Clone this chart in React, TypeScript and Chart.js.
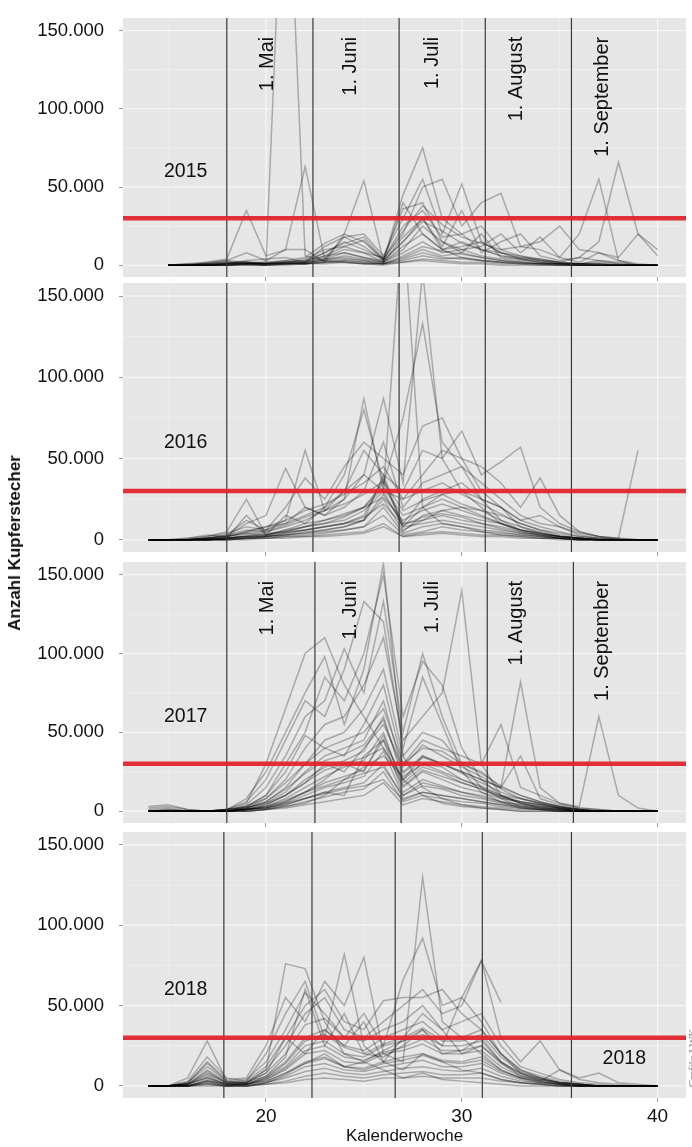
import React, { useEffect, useRef } from 'react';
import { Chart, registerables } from 'chart.js';

Chart.register(...registerables);

// Kalenderwochen (x values shared by every trap series)
const WEEKS = [14, 15, 16, 17, 18, 19, 20, 21, 22, 23, 24, 25, 26, 27, 28, 29, 30, 31, 32, 33, 34, 35, 36, 37, 38, 39, 40];

// axis ticks, values in thousands (50 -> "50.000")
const Y_TICKS = [0, 50, 100, 150];
const Y_MINOR = [25, 75, 125];
const X_TICKS = [20, 30, 40];
const X_MINOR = [15, 25, 35];
const THRESHOLD = 30;

const MONTH_LABELS = ['1. Mai', '1. Juni', '1. Juli', '1. August', '1. September'];
const MONTH_WEEKS_2015 = [18.0, 22.4, 26.8, 31.2, 35.6];
const MONTH_WEEKS_2016 = [18.0, 22.4, 26.8, 31.2, 35.6];
const MONTH_WEEKS_2017 = [18.0, 22.5, 26.9, 31.3, 35.7];
const MONTH_WEEKS_2018 = [17.85, 22.35, 26.6, 31.05, 35.6];
const MONTH_LABEL_WEEKS = [20.1, 24.3, 28.5, 32.8, 37.2];
const MONTH_LABEL_TOP = 146;
const YEAR_LABEL_POS = [15.9, 60];
const EXTRA_LABEL_POS = [38.3, 17];

// Anzahl Kupferstecher per trap (thousands), weeks 14..40
const traps2015: (number | null)[][] = [
  [null, 0, 0, 1, 2, 1, 0, 300, 6, 3, 2, 1, 1, 2, 3, 2, 1, 1, 0, 0, 0, 0, 0, 0, 0, 0, 0],
  [null, 0, 0, 2, 4, 35, 6, 10, 63, 4, 18, 12, 3, 40, 20, 10, 5, 3, 2, 1, 1, 0, 0, 0, 0, 0, 0],
  [null, 0, 1, 1, 3, 8, 3, 10, 10, 2, 20, 54, 3, 45, 75, 30, 20, 10, 8, 5, 3, 2, 5, 3, 2, 0, 0],
  [null, 0, 0, 0, 1, 3, 4, 5, 2, 12, 18, 20, 6, 30, 55, 20, 52, 15, 8, 4, 2, 1, 1, 3, 1, 0, 0],
  [null, 0, 0, 1, 2, 2, 1, 3, 2, 8, 15, 10, 4, 20, 50, 55, 25, 40, 46, 12, 10, 5, 2, 8, 3, 1, 0],
  [null, 0, 0, 0, 1, 1, 2, 2, 4, 10, 12, 8, 5, 36, 40, 15, 10, 12, 20, 8, 18, 5, 20, 55, 3, 0, 0],
  [null, 0, 0, 0, 0, 1, 1, 2, 3, 6, 8, 5, 3, 15, 30, 12, 35, 8, 15, 20, 6, 3, 5, 15, 66, 20, 6],
  [null, 0, 0, 1, 1, 2, 2, 3, 5, 14, 20, 15, 4, 25, 35, 18, 20, 25, 10, 12, 15, 25, 10, 8, 5, 20, 10],
  [null, 0, 0, 0, 1, 1, 1, 1, 2, 5, 10, 8, 2, 12, 20, 10, 15, 10, 6, 5, 4, 2, 1, 2, 1, 0, 0],
  [null, 0, 0, 0, 0, 1, 0, 1, 1, 3, 6, 4, 2, 8, 15, 8, 10, 6, 4, 3, 2, 1, 1, 1, 0, 0, 0],
  [null, 0, 0, 0, 1, 1, 1, 2, 2, 4, 5, 3, 1, 5, 10, 6, 8, 5, 3, 2, 1, 1, 0, 0, 0, 0, 0],
  [null, 0, 0, 0, 0, 0, 0, 1, 1, 2, 3, 2, 1, 3, 6, 4, 5, 3, 2, 1, 1, 0, 0, 0, 0, 0, 0],
  [null, 0, 0, 0, 1, 1, 1, 1, 2, 3, 4, 3, 2, 10, 25, 15, 8, 20, 5, 4, 2, 1, 0, 0, 0, 0, 0],
  [null, 0, 0, 0, 0, 1, 0, 1, 1, 2, 2, 1, 1, 4, 8, 5, 4, 3, 2, 2, 1, 1, 1, 0, 0, 0, 0],
  [null, 0, 0, 0, 0, 0, 0, 0, 1, 1, 2, 1, 0, 2, 4, 3, 2, 2, 1, 1, 0, 0, 0, 0, 0, 0, 0],
  [null, 0, 0, 0, 1, 2, 1, 2, 1, 4, 8, 5, 2, 18, 30, 10, 12, 15, 8, 6, 3, 2, 1, 1, 0, 0, 0],
  [null, 0, 0, 0, 0, 1, 1, 1, 2, 6, 12, 16, 3, 15, 28, 22, 14, 10, 6, 4, 3, 1, 1, 0, 0, 0, 0],
  [null, 0, 1, 2, 3, 2, 1, 2, 3, 8, 14, 18, 4, 22, 38, 26, 18, 14, 10, 6, 4, 2, 1, 1, 0, 0, 0],
  [null, 0, 0, 1, 2, 2, 1, 1, 1, 2, 3, 2, 1, 6, 12, 9, 7, 5, 3, 2, 1, 1, 0, 0, 0, 0, 0],
];

const traps2016: (number | null)[][] = [
  [0, 0, 1, 3, 2, 10, 15, 44, 20, 15, 25, 87, 30, 200, 20, 10, 8, 5, 3, 2, 1, 1, 0, 0, 0, 0, 0],
  [0, 0, 0, 1, 2, 5, 8, 12, 55, 18, 30, 40, 87, 35, 165, 50, 30, 20, 10, 5, 3, 2, 1, 0, 0, 0, 0],
  [0, 0, 0, 2, 5, 25, 3, 15, 10, 20, 40, 80, 35, 75, 133, 60, 45, 25, 12, 6, 3, 1, 0, 0, 0, 0, 0],
  [0, 0, 0, 1, 3, 12, 6, 20, 38, 25, 45, 60, 50, 40, 70, 75, 50, 30, 20, 8, 4, 2, 1, 0, 0, 0, 0],
  [0, 0, 0, 1, 2, 4, 6, 10, 15, 20, 30, 55, 40, 30, 55, 50, 67, 40, 48, 57, 20, 10, 5, 2, 0, 0, 0],
  [0, 0, 0, 0, 1, 3, 5, 8, 12, 18, 25, 40, 30, 25, 40, 55, 50, 45, 35, 20, 38, 15, 5, 2, 1, 0, 0],
  [0, 0, 0, 1, 2, 5, 8, 10, 20, 15, 20, 30, 60, 20, 35, 40, 45, 35, 25, 15, 10, 8, 3, 1, 1, 55, null],
  [0, 0, 0, 0, 1, 2, 3, 6, 8, 12, 15, 20, 35, 10, 25, 30, 35, 25, 20, 12, 8, 5, 2, 1, 0, 0, 0],
  [0, 0, 0, 0, 1, 2, 4, 5, 8, 10, 12, 18, 30, 8, 20, 25, 20, 18, 15, 10, 6, 4, 2, 1, 0, 0, 0],
  [0, 0, 0, 0, 0, 1, 2, 3, 5, 6, 8, 12, 25, 5, 15, 18, 15, 12, 10, 6, 4, 2, 1, 0, 0, 0, 0],
  [0, 0, 0, 0, 1, 2, 2, 4, 6, 8, 10, 15, 38, 6, 12, 15, 12, 10, 8, 5, 3, 2, 1, 0, 0, 0, 0],
  [0, 0, 0, 0, 0, 1, 1, 2, 3, 4, 6, 8, 20, 4, 8, 10, 8, 6, 5, 3, 2, 1, 0, 0, 0, 0, 0],
  [0, 0, 0, 1, 1, 15, 3, 5, 6, 8, 10, 12, 28, 10, 12, 18, 20, 15, 10, 6, 4, 2, 1, 0, 0, 0, 0],
  [0, 0, 0, 0, 1, 1, 2, 3, 4, 5, 6, 8, 15, 3, 5, 8, 6, 5, 4, 3, 2, 1, 0, 0, 0, 0, 0],
  [0, 0, 0, 0, 0, 1, 1, 2, 2, 3, 4, 5, 10, 2, 4, 5, 4, 3, 3, 2, 1, 1, 0, 0, 0, 0, 0],
  [0, 0, 0, 0, 0, 0, 1, 1, 2, 2, 3, 4, 8, 2, 3, 4, 3, 2, 2, 1, 1, 0, 0, 0, 0, 0, 0],
  [0, 0, 0, 0, 1, 2, 3, 5, 8, 10, 14, 20, 32, 15, 20, 28, 30, 25, 20, 12, 15, 8, 4, 2, 1, 0, 0],
  [0, 0, 0, 0, 0, 1, 2, 3, 4, 6, 8, 12, 40, 8, 10, 12, 10, 8, 6, 4, 3, 1, 1, 0, 0, 0, 0],
  [0, 0, 1, 2, 4, 8, 6, 12, 18, 22, 28, 35, 45, 25, 30, 35, 28, 22, 16, 10, 6, 3, 1, 0, 0, 0, 0],
  [0, 0, 0, 1, 3, 6, 5, 9, 14, 18, 22, 28, 36, 18, 24, 28, 22, 18, 12, 8, 5, 2, 1, 0, 0, 0, 0],
  [0, 0, 0, 1, 2, 4, 3, 6, 10, 12, 16, 20, 26, 12, 18, 22, 18, 14, 10, 6, 4, 2, 1, 0, 0, 0, 0],
  [0, 0, 0, 0, 1, 2, 2, 4, 6, 8, 10, 14, 22, 9, 14, 16, 14, 10, 7, 4, 2, 1, 0, 0, 0, 0, 0],
];

const traps2017: (number | null)[][] = [
  [3, 4, 1, 0, 1, 5, 30, 65, 100, 110, 80, 60, 40, 20, 10, 5, 3, 2, 1, 0, 0, 0, 0, 0, 0, 0, 0],
  [2, 3, 1, 0, 1, 8, 25, 50, 75, 98, 55, 90, 157, 35, 15, 8, 4, 2, 1, 0, 0, 0, 0, 0, 0, 0, 0],
  [1, 2, 0, 0, 0, 4, 15, 35, 60, 70, 103, 75, 133, 50, 100, 60, 30, 15, 8, 3, 1, 0, 0, 0, 0, 0, 0],
  [0, 1, 0, 0, 1, 6, 20, 45, 70, 60, 90, 133, 120, 40, 85, 55, 25, 12, 6, 2, 1, 0, 0, 0, 0, 0, 0],
  [0, 1, 0, 0, 0, 3, 10, 30, 50, 85, 70, 100, 150, 60, 95, 80, 40, 20, 10, 5, 2, 1, 0, 0, 0, 0, 0],
  [0, 0, 0, 0, 1, 2, 8, 20, 40, 55, 60, 80, 110, 45, 60, 75, 140, 30, 10, 5, 3, 1, 0, 0, 0, 0, 0],
  [0, 0, 0, 0, 0, 2, 6, 15, 30, 45, 50, 65, 90, 35, 50, 45, 30, 25, 15, 82, 15, 5, 2, 1, 0, 0, 0],
  [0, 0, 0, 0, 1, 3, 10, 25, 48, 40, 35, 55, 80, 30, 45, 40, 35, 30, 55, 15, 10, 5, 3, 60, 10, 2, 0],
  [0, 0, 0, 0, 0, 2, 5, 12, 25, 35, 40, 45, 70, 25, 35, 30, 25, 20, 15, 35, 8, 4, 2, 1, 0, 0, 0],
  [0, 0, 0, 0, 0, 1, 4, 10, 20, 28, 32, 38, 60, 20, 30, 25, 20, 15, 10, 8, 5, 3, 1, 0, 0, 0, 0],
  [0, 0, 0, 0, 0, 1, 3, 8, 15, 22, 28, 32, 50, 15, 25, 20, 15, 12, 8, 6, 4, 2, 1, 0, 0, 0, 0],
  [0, 0, 0, 0, 0, 1, 2, 6, 12, 18, 22, 26, 45, 12, 20, 16, 12, 10, 6, 4, 3, 2, 0, 0, 0, 0, 0],
  [0, 0, 0, 0, 0, 1, 2, 5, 10, 15, 18, 22, 38, 10, 16, 14, 10, 8, 5, 3, 2, 1, 0, 0, 0, 0, 0],
  [0, 0, 0, 0, 0, 0, 1, 4, 8, 12, 15, 18, 30, 8, 12, 10, 8, 6, 4, 2, 1, 1, 0, 0, 0, 0, 0],
  [0, 0, 0, 0, 0, 0, 1, 3, 6, 9, 12, 14, 25, 6, 10, 8, 6, 5, 3, 2, 1, 0, 0, 0, 0, 0, 0],
  [0, 0, 0, 0, 0, 0, 1, 2, 4, 6, 8, 10, 18, 4, 8, 6, 4, 3, 2, 1, 1, 0, 0, 0, 0, 0, 0],
  [0, 0, 0, 0, 0, 1, 2, 5, 8, 12, 10, 35, 45, 20, 35, 30, 25, 20, 15, 10, 6, 3, 1, 0, 0, 0, 0],
  [0, 0, 0, 0, 0, 0, 1, 3, 5, 10, 20, 28, 35, 22, 30, 28, 20, 16, 10, 6, 4, 2, 1, 0, 0, 0, 0],
  [0, 0, 0, 0, 1, 2, 5, 10, 18, 30, 25, 40, 55, 28, 42, 35, 28, 22, 14, 8, 5, 3, 1, 0, 0, 0, 0],
  [0, 0, 0, 0, 0, 1, 3, 6, 12, 20, 30, 25, 48, 18, 28, 24, 18, 14, 9, 5, 3, 2, 0, 0, 0, 0, 0],
  [0, 0, 0, 0, 1, 3, 8, 18, 30, 40, 45, 50, 65, 30, 40, 38, 30, 24, 16, 10, 6, 3, 1, 0, 0, 0, 0],
  [0, 0, 0, 0, 0, 2, 6, 14, 24, 32, 36, 42, 58, 24, 34, 30, 24, 18, 12, 8, 5, 2, 1, 0, 0, 0, 0],
  [0, 0, 0, 0, 0, 1, 4, 10, 18, 26, 30, 34, 40, 16, 26, 22, 18, 14, 9, 6, 4, 2, 0, 0, 0, 0, 0],
  [0, 0, 0, 0, 0, 1, 3, 7, 12, 16, 20, 24, 28, 10, 18, 15, 12, 9, 6, 4, 2, 1, 0, 0, 0, 0, 0],
  [0, 0, 0, 0, 0, 1, 2, 4, 8, 11, 14, 16, 20, 7, 12, 10, 8, 6, 4, 3, 2, 1, 0, 0, 0, 0, 0],
];

const traps2018: (number | null)[][] = [
  [0, 0, 5, 28, 3, 2, 10, 76, 73, 40, 20, 15, 10, 5, 8, 4, 3, 2, 1, 0, 0, 0, 0, 0, 0, 0, 0],
  [0, 0, 3, 18, 5, 3, 20, 45, 65, 30, 82, 25, 15, 10, 20, 15, 10, 8, 4, 2, 1, 0, 0, 0, 0, 0, 0],
  [0, 0, 2, 15, 4, 5, 25, 55, 40, 65, 50, 80, 20, 15, 130, 40, 30, 20, 10, 5, 2, 1, 0, 0, 0, 0, 0],
  [0, 0, 2, 12, 3, 4, 15, 35, 58, 45, 30, 45, 25, 66, 92, 50, 55, 78, 52, null, null, null, null, null, null, null, null],
  [0, 0, 1, 10, 2, 3, 12, 30, 50, 60, 40, 35, 53, 55, 55, 60, 45, 35, 20, 10, 5, 2, 1, 0, 0, 0, 0],
  [0, 0, 1, 8, 2, 2, 10, 25, 45, 55, 35, 30, 40, 50, 60, 45, 50, 78, 30, 15, 28, 10, 4, 2, 1, 0, 0],
  [0, 0, 1, 6, 1, 2, 8, 20, 38, 42, 30, 28, 35, 40, 50, 35, 40, 45, 25, 12, 8, 4, 2, 1, 0, 0, 0],
  [0, 0, 1, 5, 1, 1, 6, 15, 30, 35, 25, 22, 30, 35, 40, 30, 30, 35, 20, 10, 6, 3, 1, 0, 0, 0, 0],
  [0, 0, 0, 4, 1, 1, 5, 12, 25, 28, 20, 18, 25, 28, 32, 25, 25, 28, 15, 8, 5, 2, 1, 0, 0, 0, 0],
  [0, 0, 0, 3, 0, 1, 4, 10, 20, 22, 15, 14, 20, 22, 26, 20, 20, 22, 12, 6, 4, 2, 1, 0, 0, 0, 0],
  [0, 0, 0, 2, 0, 1, 3, 8, 15, 18, 12, 11, 15, 18, 20, 16, 15, 18, 10, 5, 3, 1, 0, 0, 0, 0, 0],
  [0, 0, 0, 2, 0, 0, 2, 6, 12, 14, 10, 9, 12, 14, 16, 12, 12, 14, 8, 4, 2, 1, 0, 0, 0, 0, 0],
  [0, 0, 0, 1, 0, 0, 2, 5, 9, 11, 8, 7, 9, 11, 12, 10, 9, 11, 6, 3, 2, 1, 0, 0, 0, 0, 0],
  [0, 0, 0, 1, 0, 0, 1, 3, 6, 8, 6, 5, 7, 8, 9, 7, 7, 8, 4, 2, 1, 0, 0, 0, 0, 0, 0],
  [0, 0, 0, 0, 0, 0, 1, 2, 4, 5, 4, 3, 5, 5, 6, 5, 5, 5, 3, 2, 1, 0, 0, 0, 0, 0, 0],
  [0, 0, 2, 14, 3, 2, 8, 30, 20, 35, 25, 40, 15, 30, 45, 35, 20, 25, 15, 8, 4, 2, 1, 0, 0, 0, 0],
  [0, 0, 1, 9, 2, 2, 6, 18, 60, 25, 45, 20, 18, 25, 35, 25, 55, 40, 20, 8, 3, 1, 0, 0, 0, 0, 0],
  [0, 0, 0, 3, 1, 1, 3, 8, 14, 20, 12, 15, 22, 28, 35, 20, 22, 30, 15, 6, 3, 10, 5, 8, 2, 1, 0],
  [0, 0, 1, 7, 2, 1, 5, 14, 28, 32, 24, 20, 26, 30, 36, 28, 28, 32, 18, 9, 5, 2, 1, 0, 0, 0, 0],
  [0, 0, 1, 5, 1, 1, 4, 11, 22, 25, 18, 16, 21, 24, 29, 22, 22, 25, 14, 7, 4, 2, 1, 0, 0, 0, 0],
  [0, 0, 0, 3, 1, 0, 2, 7, 14, 17, 12, 10, 14, 16, 19, 15, 14, 16, 9, 5, 3, 1, 0, 0, 0, 0, 0],
];

const X_MIN = 12.7;
const X_MAX = 41.45;
const Y_MIN = -7.5;
const Y_MAX = 158;

const FONT = '"Liberation Sans", Arial, sans-serif';

interface PanelSpec {
  year: string;
  series: (number | null)[][];
  monthWeeks: number[];
  showMonthLabels: boolean;
  top: number;
  bottom: number;
  last: boolean;
  extraLabel?: string;
}

const PANELS: PanelSpec[] = [
  { year: '2015', series: traps2015, monthWeeks: MONTH_WEEKS_2015, showMonthLabels: true, top: 18, bottom: 277, last: false },
  { year: '2016', series: traps2016, monthWeeks: MONTH_WEEKS_2016, showMonthLabels: false, top: 283, bottom: 552, last: false },
  { year: '2017', series: traps2017, monthWeeks: MONTH_WEEKS_2017, showMonthLabels: true, top: 562, bottom: 823, last: false },
  { year: '2018', series: traps2018, monthWeeks: MONTH_WEEKS_2018, showMonthLabels: false, top: 832, bottom: 1098, last: true, extraLabel: '2018' },
];

const PAD_TOP = 28;

function line(ctx: CanvasRenderingContext2D, x1: number, y1: number, x2: number, y2: number) {
  ctx.beginPath();
  ctx.moveTo(x1, y1);
  ctx.lineTo(x2, y2);
  ctx.stroke();
}

const backgroundPlugin = {
  id: 'panelBackground',
  beforeDatasetsDraw(chart: any) {
    const { ctx, chartArea: a, scales } = chart;
    const xs = scales.x;
    const ys = scales.y;
    ctx.save();
    ctx.fillStyle = '#E6E6E6';
    ctx.fillRect(a.left, a.top, a.right - a.left, a.bottom - a.top);
    ctx.strokeStyle = 'rgba(255,255,255,0.45)';
    ctx.lineWidth = 0.7;
    Y_MINOR.forEach((v) => { const p = ys.getPixelForValue(v); line(ctx, a.left, p, a.right, p); });
    X_MINOR.forEach((v) => { const p = xs.getPixelForValue(v); line(ctx, p, a.top, p, a.bottom); });
    ctx.strokeStyle = 'rgba(255,255,255,0.7)';
    ctx.lineWidth = 1.2;
    Y_TICKS.forEach((v) => { const p = ys.getPixelForValue(v); line(ctx, a.left, p, a.right, p); });
    X_TICKS.forEach((v) => { const p = xs.getPixelForValue(v); line(ctx, p, a.top, p, a.bottom); });
    ctx.restore();
  },
};

function makeTextPlugin(spec: PanelSpec) {
  return {
    id: 'panelText',
    afterDatasetsDraw(chart: any) {
      const { ctx, scales } = chart;
      const xs = scales.x;
      const ys = scales.y;
      ctx.save();
      ctx.fillStyle = '#111';
      ctx.font = `19.5px ${FONT}`;
      ctx.textAlign = 'center';
      ctx.textBaseline = 'middle';
      ctx.fillText(spec.year, xs.getPixelForValue(YEAR_LABEL_POS[0]), ys.getPixelForValue(YEAR_LABEL_POS[1]));
      if (spec.extraLabel) {
        ctx.fillText(spec.extraLabel, xs.getPixelForValue(EXTRA_LABEL_POS[0]), ys.getPixelForValue(EXTRA_LABEL_POS[1]));
      }
      if (spec.showMonthLabels) {
        ctx.font = `20px ${FONT}`;
        MONTH_LABEL_WEEKS.forEach((w, i) => {
          ctx.save();
          ctx.translate(xs.getPixelForValue(w), ys.getPixelForValue(MONTH_LABEL_TOP));
          ctx.rotate(-Math.PI / 2);
          ctx.textAlign = 'right';
          ctx.textBaseline = 'middle';
          ctx.fillText(MONTH_LABELS[i], 0, 0);
          ctx.restore();
        });
      }
      ctx.restore();
    },
  };
}

function Panel({ spec }: { spec: PanelSpec }) {
  const ref = useRef<HTMLCanvasElement>(null);
  const xh = spec.last ? 49 : 6;
  const padBottom = spec.last ? 0 : 22;
  const h = PAD_TOP + (spec.bottom - spec.top) + xh + padBottom;

  useEffect(() => {
    if (!ref.current) return;
    const datasets: any[] = [];
    // threshold line (drawn on top: first dataset)
    datasets.push({
      data: [{ x: X_MIN, y: THRESHOLD }, { x: X_MAX, y: THRESHOLD }],
      borderColor: 'rgba(226,30,42,0.92)',
      borderWidth: 4.5,
      pointRadius: 0,
      tension: 0,
    });
    spec.monthWeeks.forEach((w) => {
      datasets.push({
        data: [{ x: w, y: Y_MIN }, { x: w, y: Y_MAX }],
        borderColor: '#3a3a3a',
        borderWidth: 1.2,
        pointRadius: 0,
        tension: 0,
      });
    });
    spec.series.forEach((s) => {
      datasets.push({
        data: WEEKS.map((w, i) => ({ x: w, y: s[i] })),
        borderColor: 'rgba(0,0,0,0.27)',
        borderWidth: 1.5,
        pointRadius: 0,
        tension: 0,
        spanGaps: false,
      });
    });

    const chart = new Chart(ref.current, {
      type: 'line',
      data: { datasets },
      options: {
        responsive: false,
        animation: false,
        devicePixelRatio: 1,
        events: [],
        layout: { padding: { left: 0, right: 6, top: PAD_TOP, bottom: padBottom } },
        plugins: { legend: { display: false }, tooltip: { enabled: false } },
        scales: {
          x: {
            type: 'linear',
            min: X_MIN,
            max: X_MAX,
            afterBuildTicks: (s: any) => { s.ticks = X_TICKS.map((v) => ({ value: v })); },
            afterFit: (s: any) => { s.height = xh; },
            grid: { drawOnChartArea: false, drawTicks: true, tickLength: 4, tickColor: '#9a9a9a' },
            border: { display: false },
            ticks: {
              display: spec.last,
              color: '#111',
              padding: 3,
              maxRotation: 0,
              font: { family: FONT, size: 19 },
              callback: (v: any) => String(v),
            },
            title: {
              display: spec.last,
              text: 'Kalenderwoche',
              color: '#111',
              font: { family: FONT, size: 17 },
              padding: { top: 0, bottom: 0 },
            },
          },
          y: {
            type: 'linear',
            min: Y_MIN,
            max: Y_MAX,
            afterBuildTicks: (s: any) => { s.ticks = Y_TICKS.map((v) => ({ value: v })); },
            afterFit: (s: any) => { s.width = 123; },
            grid: { drawOnChartArea: false, drawTicks: true, tickLength: 4, tickColor: '#9a9a9a' },
            border: { display: false },
            ticks: {
              color: '#111',
              padding: 15,
              font: { family: FONT, size: 18.5 },
              callback: (v: any) => (v === 0 ? '0' : `${v}.000`),
            },
          },
        },
      } as any,
      plugins: [backgroundPlugin, makeTextPlugin(spec)],
    });
    return () => chart.destroy();
  }, []);

  return (
    <canvas
      ref={ref}
      width={692}
      height={h}
      style={{ position: 'absolute', left: 0, top: spec.top - PAD_TOP, width: 692, height: h }}
    />
  );
}

export default function App() {
  return (
    <div style={{ position: 'absolute', left: 0, top: 0, width: 692, height: 1147, overflow: 'hidden', background: '#fff' }}>
      {PANELS.map((p) => (
        <Panel key={p.year} spec={p} />
      ))}
      <div
        style={{
          position: 'absolute',
          left: 15,
          top: 543,
          transform: 'translate(-50%, -50%) rotate(-90deg)',
          fontFamily: FONT,
          fontWeight: 'bold',
          fontSize: 17,
          color: '#111',
          whiteSpace: 'nowrap',
        }}
      >
        Anzahl Kupferstecher
      </div>
      <div
        style={{
          position: 'absolute',
          left: 692,
          top: 1058,
          transform: 'translate(-50%, -50%) rotate(-90deg)',
          fontFamily: '"Liberation Serif", serif',
          fontSize: 11,
          color: '#777',
          whiteSpace: 'nowrap',
        }}
      >
        Grafik: LWK
      </div>
    </div>
  );
}
